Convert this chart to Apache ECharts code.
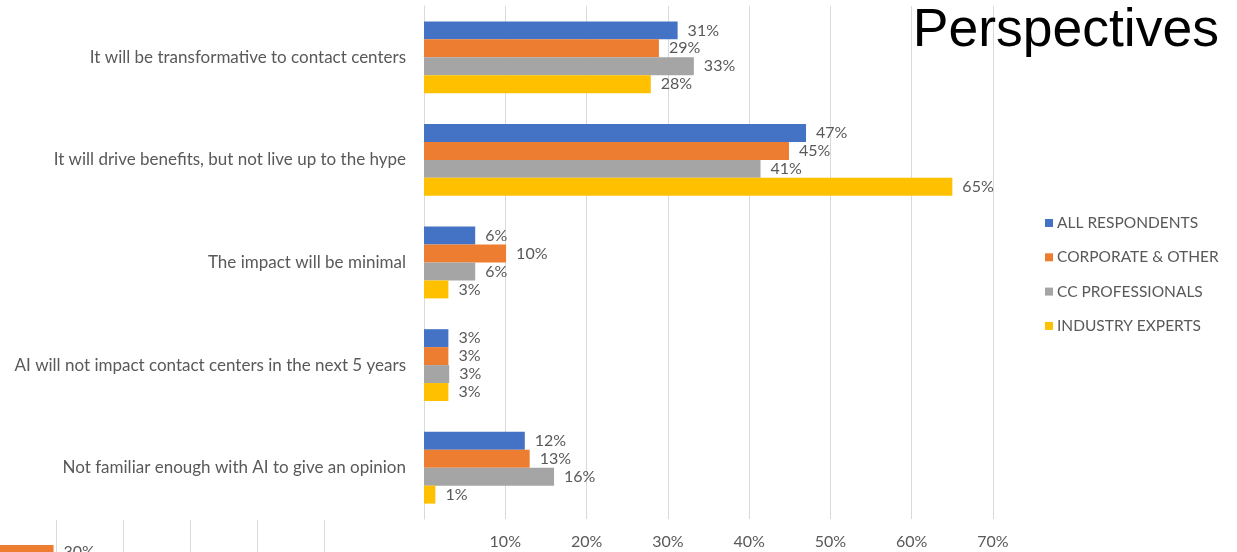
<!DOCTYPE html>
<html>
<head>
<meta charset="utf-8">
<script src="https://cdn.jsdelivr.net/npm/echarts@6/dist/echarts.min.js"></script>
<style>
  html, body { margin: 0; padding: 0; background: #fff; }
  #chart { width: 1237px; height: 552px; }
</style>
</head>
<body>
<div id="chart"></div>
<script>
const categories = [
  'It will be transformative to contact centers',
  'It will drive benefits, but not live up to the hype',
  'The impact will be minimal',
  'AI will not impact contact centers in the next 5 years',
  'Not familiar enough with AI to give an opinion'
]
const seriesNames = ['ALL RESPONDENTS', 'CORPORATE & OTHER', 'CC PROFESSIONALS', 'INDUSTRY EXPERTS']
const allRespondents = [31.2, 47.0, 6.3, 3.0, 12.4]
const corporateOther = [28.9, 44.9, 10.1, 3.0, 13.0]
const ccProfessionals = [33.2, 41.4, 6.3, 3.1, 16.0]
const industryExperts = [27.9, 65.0, 3.0, 3.0, 1.4]
const colors = ['#4472C4', '#ED7D31', '#A5A5A5', '#FFC000']
// clipped piece of a neighbouring chart, bottom-left corner
const fragmentValues = [29.6]

const font = 'Lato'
const textGray = '#595959'
const gridGray = '#d9d9d9'

const chart = echarts.init(document.getElementById('chart'))

const mainSeries = [allRespondents, corporateOther, ccProfessionals, industryExperts].map((data, i) => ({
  name: seriesNames[i],
  type: 'bar',
  xAxisIndex: 0,
  yAxisIndex: 0,
  data: data,
  color: colors[i],
  barGap: '0%',
  barCategoryGap: '30%',
  label: {
    show: true,
    position: 'right',
    distance: 10,
    color: textGray,
    fontFamily: font,
    fontSize: 16,
    formatter: p => Math.round(p.value) + '%'
  }
}))

chart.setOption({
  animation: false,
  backgroundColor: '#fff',
  title: {
    text: 'Perspectives',
    right: 18,
    top: 4,
    padding: 0,
    textStyle: { fontFamily: 'Liberation Sans', fontSize: 53.5, fontWeight: 'normal', color: '#000' }
  },
  legend: {
    orient: 'vertical',
    left: 1040,
    top: 210,
    itemWidth: 8,
    itemHeight: 8,
    itemGap: 18.3,
    icon: 'rect',
    data: seriesNames,
    textStyle: { color: textGray, fontFamily: font, fontSize: 15.5, padding: [0, 0, 0, -1] }
  },
  grid: [
    { left: 424, right: 244, top: 6, bottom: 33 },
    { left: 0, width: 324, top: 520, bottom: 0 }
  ],
  xAxis: [
    {
      gridIndex: 0,
      type: 'value',
      min: 0,
      max: 70,
      interval: 10,
      axisLine: { show: false },
      axisTick: { show: false },
      splitLine: { lineStyle: { color: gridGray, width: 1 } },
      axisLabel: {
        color: textGray,
        fontFamily: font,
        fontSize: 16,
        margin: 15,
        formatter: v => (v === 0 ? '' : v + '%')
      }
    },
    {
      gridIndex: 1,
      type: 'value',
      min: 21.6,
      max: 70,
      axisLine: { show: false },
      axisTick: { show: false },
      axisLabel: { show: false },
      splitLine: { showMinLine: false, lineStyle: { color: gridGray, width: 1 } }
    }
  ],
  yAxis: [
    {
      gridIndex: 0,
      type: 'category',
      inverse: true,
      data: categories,
      axisLine: { show: true, lineStyle: { color: gridGray } },
      axisTick: { show: false },
      axisLabel: { color: textGray, fontFamily: font, fontSize: 17, margin: 18 }
    },
    {
      gridIndex: 1,
      type: 'category',
      boundaryGap: false,
      data: ['', ' '],
      axisLine: { show: false },
      axisTick: { show: false },
      axisLabel: { show: false }
    }
  ],
  series: [
    ...mainSeries,
    {
      type: 'bar',
      xAxisIndex: 1,
      yAxisIndex: 1,
      data: fragmentValues,
      color: colors[1],
      barWidth: 14,
      label: {
        show: true,
        position: 'right',
        distance: 10,
        color: textGray,
        fontFamily: font,
        fontSize: 16,
        formatter: p => Math.round(p.value) + '%'
      }
    }
  ]
})
</script>
</body>
</html>
